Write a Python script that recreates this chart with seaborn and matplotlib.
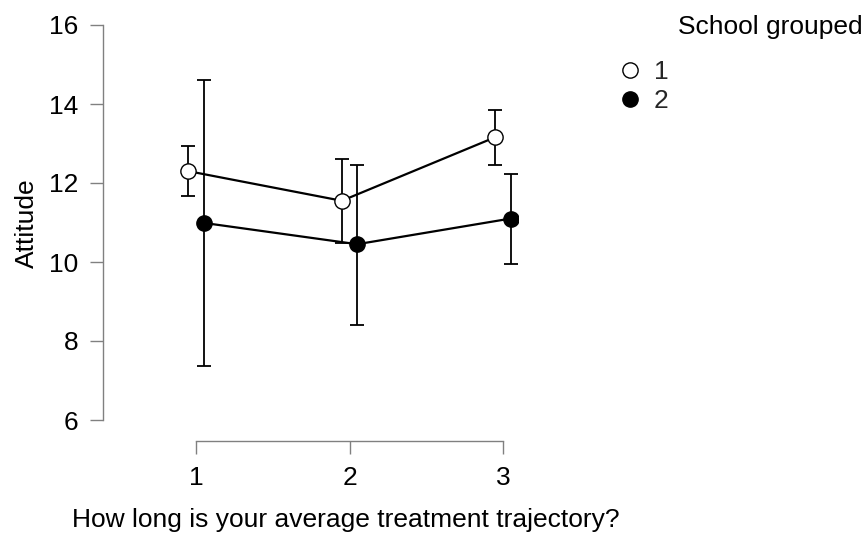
import matplotlib
matplotlib.use("Agg")
import matplotlib.pyplot as plt
from matplotlib.lines import Line2D
import seaborn as sns
import pandas as pd
import numpy as np

sns.set_theme(style="white")
plt.rcParams['font.family'] = ['Liberation Sans', 'DejaVu Sans']

# Data
categories = [1, 2, 3]
groups = ["1", "2"]
means_g1 = [12.30, 11.55, 13.16]
lower_g1 = [11.66, 10.49, 12.46]
upper_g1 = [12.94, 12.62, 13.85]
means_g2 = [10.99, 10.45, 11.10]
lower_g2 = [7.36, 8.41, 9.95]
upper_g2 = [14.62, 12.46, 12.23]

x_label = "How long is your average treatment trajectory?"
y_label = "Attitude"
legend_title = "School grouped"
y_ticks = [6, 8, 10, 12, 14, 16]

rows = []
for g, m, lo, hi in [("1", means_g1, lower_g1, upper_g1), ("2", means_g2, lower_g2, upper_g2)]:
    for c, mv, l, h in zip(categories, m, lo, hi):
        rows.append(dict(group=g, cat=c, mean=mv, lower=l, upper=h))
df = pd.DataFrame(rows)

dodge = {"1": -0.05, "2": 0.05}
face = {"1": "white", "2": "black"}
df["xpos"] = df["cat"] + df["group"].map(dodge)

FS = 19
W, H = 863, 535
fig = plt.figure(figsize=(W / 100, H / 100), dpi=100)
left, right, top, bottom = 103, 518, 21, 441
ax = fig.add_axes([left / W, 1 - bottom / H, (right - left) / W, (bottom - top) / H])

for g in groups:
    sub = df[df["group"] == g]
    ax.errorbar(sub["xpos"], sub["mean"],
                yerr=[sub["mean"] - sub["lower"], sub["upper"] - sub["mean"]],
                fmt="none", ecolor="black", elinewidth=1.3, capsize=5, capthick=1.3, zorder=2)
    sns.lineplot(data=sub, x="xpos", y="mean", color="black", linewidth=1.6,
                 marker="o", markersize=11, markerfacecolor=face[g],
                 markeredgecolor="black", markeredgewidth=1.0, ax=ax, zorder=3,
                 legend=False, errorbar=None)

# x in data: x=1 at 196px, x=3 at 503px
ppu = (503 - 196) / 2
ax.set_xlim(1 - (196 - left) / ppu, 3 + (right - 503) / ppu)
ypu = (420 - 25) / 10
ax.set_ylim(6 - (bottom - 420) / ypu, 16 + (25 - top) / ypu)

ax.set_xticks(categories)
ax.set_xticklabels([str(c) for c in categories])
ax.set_yticks(y_ticks)
ax.set_yticklabels([str(t) for t in y_ticks])

for s in ["top", "right"]:
    ax.spines[s].set_visible(False)
ax.spines["left"].set_bounds(6, 16)
ax.spines["bottom"].set_bounds(1, 3)
for s in ["left", "bottom"]:
    ax.spines[s].set_color("#808080")
    ax.spines[s].set_linewidth(1.0)
ax.tick_params(axis="both", which="both", direction="out", color="#808080",
               width=1.0, labelsize=FS, labelcolor="black")
ax.tick_params(axis="y", length=9.5, pad=8, left=True)
ax.tick_params(axis="x", length=9, pad=9, bottom=True)

ax.set_xlabel("")
ax.set_ylabel("")
fig.text(346 / W, 1 - 520 / H, x_label, ha="center", va="center", fontsize=FS, color="black")
fig.text(27 / W, 1 - 223 / H, y_label, ha="center", va="center", rotation=90, fontsize=FS, color="black")

# Legend
fig.text(678 / W, 1 - 27 / H, legend_title, ha="left", va="center", fontsize=FS, color="black")
handles = [Line2D([0], [0], linestyle="none", marker="o", markersize=11,
                  markerfacecolor=face[g], markeredgecolor="black", markeredgewidth=1.0)
           for g in groups]
fig.legend(handles, groups, loc="upper left", bbox_to_anchor=(601 / W, 1 - 47 / H),
           frameon=False, fontsize=FS, handletextpad=0.3, labelspacing=0.2,
           borderpad=0, handlelength=1.2)

fig.savefig("out.png", dpi=100, facecolor="white")
